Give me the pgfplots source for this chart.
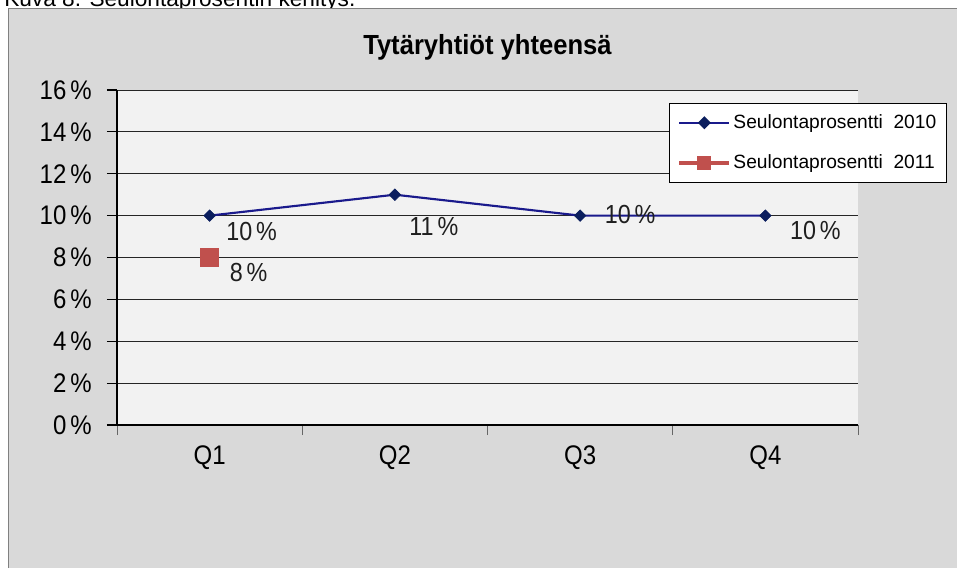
\documentclass[border=0pt]{standalone}
\usepackage{pgfplots}
\pgfplotsset{compat=1.18}
\usepackage{fontspec}
\setmainfont{Liberation Sans}
\definecolor{chartbg}{HTML}{D9D9D9}
\definecolor{plotbg}{HTML}{F2F2F2}
\definecolor{navyline}{HTML}{1A1A8C}
\definecolor{navymark}{HTML}{0B1E5E}
\definecolor{redsq}{HTML}{C0504D}
\begin{document}
\begin{tikzpicture}[x=0.75pt,y=0.75pt]
\useasboundingbox (0,0) rectangle (957,568);
\fill[white] (0,0) rectangle (957,568);
\fill[chartbg] (8,0) rectangle (957,560);
\draw[gray, line width=1.2pt] (8.5,0) -- (8.5,559.5) -- (957,559.5);
\begin{scope}
\clip (0,560.5) rectangle (957,568);
\node[anchor=base west, inner sep=0pt, font=\fontsize{17}{20}\selectfont] at (4,561) {Kuva 8. Seulontaprosentin kehitys.};
\end{scope}
\node[font=\bfseries\fontsize{19.2}{22}\selectfont] at (487.5,521) {\scalebox{1}[1.08]{Tytäryhtiöt yhteensä}};
\begin{axis}[
  at={(87.75pt,107.25pt)}, anchor=south west,
  scale only axis, width=555.75pt, height=251.25pt,
  xmin=-0.5, xmax=3.5, ymin=0, ymax=16,
  axis background/.style={fill=plotbg},
  axis x line=bottom, axis y line=left,
  axis line style={-, black, line width=0.8pt},
  ytick={0,2,...,16},
  yticklabel={\scalebox{1}[1.12]{\pgfmathprintnumber{\tick}\,\%}},
  /pgf/number format/assume math mode=true,
  ymajorgrids, grid style={black!85, line width=0.7pt},
  tick align=outside, major tick length=7.5pt,
  tick style={black, line width=0.8pt},
  xtick={-0.5,0.5,1.5,2.5,3.5}, xticklabels={},
  x tick style={black!60, line width=0.6pt},
  extra x ticks={0,1,2,3},
  extra x tick labels={\scalebox{1}[1.12]{Q1},\scalebox{1}[1.12]{Q2},\scalebox{1}[1.12]{Q3},\scalebox{1}[1.12]{Q4}},
  extra x tick style={major tick length=0pt, grid=none,
     xticklabel style={anchor=center, yshift=-24.75pt}},
  ticklabel style={font=\fontsize{18}{20}\selectfont},
  yticklabel style={anchor=east, inner sep=0pt, xshift=-11.25pt},
  clip=false,
  legend style={at={(0.745,0.961)}, anchor=north west, draw=black, fill=white,
     line width=0.6pt, font=\fontsize{14.4}{16}\selectfont,
     inner xsep=6pt, inner ysep=7pt, row sep=15pt,
     nodes={inner sep=1.5pt}},
  legend cell align=left,
]
\addplot[navyline, line width=1.6pt, mark=square*, mark size=3.1pt,
  mark options={rotate=45, fill=navymark, draw=navymark, line width=0.4pt},
  legend image code/.code={
    \draw[navyline, line width=1.3pt] (0pt,0pt) -- (37.5pt,0pt);
    \draw[navymark, fill=navymark, rotate around={45:(18.75pt,0pt)}] (16.1pt,-2.65pt) rectangle (21.4pt,2.65pt);
  }]
  coordinates {(0,10) (1,11) (2,10) (3,10)};
\addlegendentry{Seulontaprosentti\ \ 2010}
\addplot[redsq, line width=3pt, mark=square*, mark size=6.75pt,
  mark options={fill=redsq, draw=redsq, line width=0.3pt},
  legend image code/.code={
    \draw[redsq, line width=3pt] (0pt,0pt) -- (37.5pt,0pt);
    \fill[redsq] (15pt,-3.75pt) rectangle (22.5pt,3.75pt);
  }]
  coordinates {(0,8)};
\addlegendentry{Seulontaprosentti\ \ 2011}
\begin{scope}[every node/.style={font=\fontsize{17.5}{20}\selectfont, text=black!88}]
\node at (axis cs:0,10) [xshift=31.5pt, yshift=-12pt] {\scalebox{1}[1.12]{10\,\%}};
\node at (axis cs:1,11) [xshift=29.25pt, yshift=-24pt] {\scalebox{1}[1.12]{11\,\%}};
\node at (axis cs:2,10) [xshift=37.5pt, yshift=0.75pt] {\scalebox{1}[1.12]{10\,\%}};
\node at (axis cs:3,10) [xshift=37.5pt, yshift=-11.25pt] {\scalebox{1}[1.12]{10\,\%}};
\node at (axis cs:0,8) [xshift=29.25pt, yshift=-11.25pt] {\scalebox{1}[1.12]{8\,\%}};
\end{scope}
\end{axis}
\end{tikzpicture}
\end{document}
